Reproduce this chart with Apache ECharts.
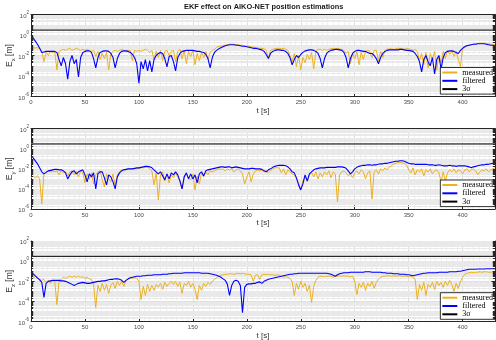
<!DOCTYPE html>
<html><head><meta charset="utf-8">
<script src="https://cdn.jsdelivr.net/npm/echarts/dist/echarts.min.js"></script>
<style>html,body{margin:0;padding:0;background:#fff}#c{width:496px;height:340px}</style>
</head><body><div id="c"></div>
<script>
const chartTitle = 'EKF effect on AIKO-NET position estimations';
const seriesNames = ['measured', 'filtered', '3σ'];
const axisSubscripts = ['x', 'y', 'z'];
const xTickLabels = [0, 50, 100, 150, 200, 250, 300, 350, 400];
const yTickExponents = [-6, -4, -2, 0, 2];

// sample times [s]
const timeS = [0,2,4,6,8,10,12,14,16,18,20,22,24,26,28,30,32,34,36,38,40,42,44,46,48,50,52,54,56,58,60,62,64,66,68,70,72,74,76,78,80,82,84,86,88,90,92,94,96,98,100,102,104,106,108,110,112,114,116,118,120,122,124,126,128,130,132,134,136,138,140,142,144,146,148,150,152,154,156,158,160,162,164,166,168,170,172,174,176,178,180,182,184,186,188,190,192,194,196,198,200,202,204,206,208,210,212,214,216,218,220,222,224,226,228,230,232,234,236,238,240,242,244,246,248,250,252,254,256,258,260,262,264,266,268,270,272,274,276,278,280,282,284,286,288,290,292,294,296,298,300,302,304,306,308,310,312,314,316,318,320,322,324,326,328,330,332,334,336,338,340,342,344,346,348,350,352,354,356,358,360,362,364,366,368,370,372,374,376,378,380,382,384,386,388,390,392,394,396,398,400,402,404,406,408,410,412,414,416,418,420,422,424,426,428,430];

// errors as log10(E [m])
const measuredX = [
-1.3,-1.3,-1.25,-1.25,-1.3,-1.6,-2.6,-1.7,-2.0,-1.6,
-1.7,-1.6,-3.4,-1.6,-1.5,-1.4,-1.5,-1.4,-1.3,-1.5,
-1.4,-1.3,-1.4,-1.5,-1.4,-1.5,-1.4,-1.5,-1.6,-1.5,
-2.1,-1.6,-2.4,-1.8,-2.3,-1.7,-3.4,-1.8,-1.6,-1.5,
-1.6,-1.5,-1.4,-1.5,-1.6,-1.5,-1.5,-2.5,-1.5,-1.6,
-1.5,-1.6,-1.5,-1.4,-1.5,-1.7,-1.5,-2.4,-1.6,-2.2,
-1.5,-2.5,-1.6,-1.5,-2.0,-1.6,-1.5,-2.6,-1.6,-1.4,
-2.3,-1.5,-2.8,-1.6,-2.1,-1.5,-2.9,-1.8,-2.5,-1.7,
-2.2,-1.6,-2.4,-1.7,-1.5,-1.4,-1.2,-1.1,-1.1,-1.0,
-1.0,-0.95,-0.9,-0.9,-0.9,-0.95,-0.95,-1.0,-1.0,-1.05,
-1.1,-1.1,-1.15,-1.2,-1.2,-1.25,-1.3,-1.3,-1.35,-1.5,
-2.2,-1.5,-1.4,-1.35,-1.3,-1.3,-1.35,-1.3,-1.4,-1.5,
-2.0,-2.6,-1.8,-3.1,-2.0,-3.4,-2.2,-2.7,-1.9,-2.4,
-1.7,-3.3,-1.6,-1.4,-1.4,-1.5,-1.4,-1.5,-1.4,-1.35,
-1.3,-1.35,-1.3,-1.35,-1.4,-1.5,-1.8,-1.6,-2.8,-1.8,
-2.3,-1.6,-2.9,-1.7,-2.4,-1.6,-1.5,-1.6,-2.2,-1.5,
-1.5,-2.5,-1.6,-2.2,-1.5,-1.4,-1.35,-1.35,-1.4,-1.35,
-1.3,-1.3,-1.35,-1.4,-1.3,-1.35,-1.4,-1.5,-1.4,-1.6,
-2.5,-1.8,-2.9,-1.7,-3.2,-1.8,-2.4,-1.6,-3.4,-2.0,
-2.7,-1.6,-2.3,-1.5,-1.9,-1.5,-2.1,-1.6,-2.4,-3.1,
-1.2,-1.1,-1.0,-1.0,-0.95,-0.9,-0.85,-0.85,-0.8,-0.8,
-0.8,-0.85,-0.85,-0.9,-0.9,-0.95];
const filteredX = [
0.0,-0.3,-0.6,-0.9,-1.3,-1.7,-1.65,-1.6,-1.6,-1.6,
-1.6,-1.6,-1.7,-2.4,-3.0,-2.2,-2.8,-4.3,-2.6,-2.0,
-2.8,-2.4,-4.1,-2.2,-1.7,-1.6,-1.55,-1.55,-1.7,-2.3,
-3.2,-2.2,-1.7,-1.6,-1.55,-1.55,-1.6,-1.8,-2.2,-3.2,
-2.3,-1.8,-1.6,-1.55,-1.55,-1.6,-1.7,-1.9,-2.2,-2.8,
-4.7,-2.6,-3.3,-2.4,-3.5,-2.5,-3.6,-2.4,-2.0,-1.8,
-1.7,-1.8,-2.3,-3.1,-2.1,-2.0,-2.6,-3.5,-2.2,-1.8,
-1.6,-1.55,-1.5,-1.5,-1.5,-1.5,-1.55,-1.6,-1.6,-1.65,
-1.7,-1.9,-2.3,-3.2,-2.2,-1.7,-1.5,-1.35,-1.25,-1.15,
-1.05,-1.0,-0.95,-0.95,-0.95,-1.0,-1.0,-1.05,-1.1,-1.1,
-1.15,-1.2,-1.25,-1.3,-1.3,-1.35,-1.4,-1.45,-1.6,-1.9,
-2.3,-1.8,-1.6,-1.5,-1.45,-1.45,-1.5,-1.5,-1.6,-1.8,
-2.2,-2.9,-2.4,-2.0,-2.2,-1.9,-1.7,-1.55,-1.5,-1.45,
-1.45,-1.5,-1.6,-1.8,-2.3,-3.2,-2.3,-1.8,-1.6,-1.5,
-1.45,-1.4,-1.4,-1.45,-1.5,-1.7,-2.2,-3.2,-2.3,-1.8,
-1.6,-1.5,-1.5,-1.55,-1.6,-1.6,-1.7,-1.8,-1.8,-2.0,
-2.3,-2.8,-2.2,-1.8,-1.6,-1.5,-1.45,-1.45,-1.45,-1.45,
-1.45,-1.4,-1.4,-1.45,-1.5,-1.5,-1.55,-1.6,-1.8,-2.1,
-2.6,-3.6,-2.4,-2.0,-2.6,-3.0,-2.2,-3.8,-2.4,-2.0,
-3.3,-2.2,-1.7,-1.6,-1.55,-1.55,-1.6,-1.7,-1.8,-1.5,
-1.3,-1.15,-1.05,-1.0,-0.95,-0.9,-0.9,-0.85,-0.85,-0.85,
-0.85,-0.9,-0.95,-1.0,-1.0,-1.05];
const measuredY = [
-2.9,-2.7,-2.9,-2.7,-3.0,-5.5,-2.5,-2.3,-2.2,-2.3,
-2.2,-2.3,-2.2,-2.6,-2.2,-2.4,-2.3,-2.7,-2.3,-2.2,
-2.6,-2.3,-2.8,-2.2,-2.4,-3.4,-2.5,-3.0,-2.4,-3.5,
-2.6,-2.3,-2.2,-3.1,-3.8,-2.5,-3.0,-3.3,-2.5,-3.7,
-2.6,-2.3,-2.1,-2.1,-2.1,-2.05,-2.0,-2.0,-2.0,-2.0,
-1.95,-1.9,-1.9,-1.85,-1.85,-2.0,-2.2,-3.6,-2.4,-5.1,
-2.6,-2.3,-3.2,-2.5,-3.4,-2.6,-2.9,-2.4,-2.8,-3.3,
-4.0,-2.7,-2.5,-2.9,-3.1,-2.5,-4.1,-2.7,-3.5,-2.4,
-2.8,-2.3,-2.6,-2.2,-2.3,-2.2,-2.1,-2.0,-2.05,-2.0,
-2.2,-2.0,-2.1,-2.0,-2.3,-2.1,-2.0,-2.2,-2.5,-3.5,
-2.8,-2.3,-3.3,-2.5,-2.2,-2.1,-2.2,-2.1,-2.3,-2.2,
-2.4,-2.2,-2.0,-1.9,-1.9,-1.9,-2.4,-2.0,-2.6,-2.1,
-2.3,-2.5,-2.6,-3.0,-3.4,-4.0,-3.2,-2.7,-3.3,-2.6,
-2.4,-2.8,-2.3,-3.0,-2.4,-2.8,-2.3,-2.6,-2.2,-2.9,
-2.3,-2.5,-5.3,-2.6,-2.3,-2.2,-2.4,-2.7,-2.5,-2.9,
-2.4,-2.2,-2.5,-2.1,-2.3,-3.0,-2.4,-2.2,-5.0,-2.3,
-2.1,-2.5,-2.0,-2.2,-1.9,-2.1,-1.8,-1.7,-1.5,-1.45,
-1.4,-1.35,-1.4,-1.45,-1.6,-2.1,-2.4,-1.9,-2.6,-2.1,
-2.3,-2.0,-2.7,-2.1,-2.3,-2.0,-2.5,-2.2,-2.1,-2.4,
-3.3,-2.3,-3.2,-2.4,-2.1,-2.3,-2.0,-2.4,-2.1,-2.2,
-2.5,-2.1,-2.0,-2.3,-2.1,-2.0,-2.2,-2.6,-2.3,-2.1,
-2.2,-2.0,-2.3,-2.1,-2.0,-1.9];
const filteredY = [
-0.66,-0.9,-1.2,-1.5,-1.9,-2.3,-2.5,-2.35,-2.2,-2.15,
-2.1,-2.05,-2.05,-2.1,-2.1,-2.2,-2.4,-3.0,-2.6,-2.3,
-2.2,-2.5,-2.3,-2.2,-2.1,-2.6,-3.3,-2.5,-2.8,-2.4,
-4.0,-2.5,-2.3,-2.3,-2.9,-3.6,-2.6,-2.8,-3.3,-4.0,
-2.8,-2.4,-2.2,-2.1,-2.05,-2.0,-2.0,-2.0,-1.95,-1.9,
-1.9,-1.85,-1.8,-1.75,-1.75,-1.8,-1.9,-2.1,-2.3,-2.5,
-2.3,-2.7,-3.1,-2.5,-3.0,-2.4,-2.6,-2.3,-2.6,-3.2,
-4.0,-2.8,-2.4,-3.0,-2.5,-3.0,-2.6,-3.4,-2.5,-2.3,
-2.7,-2.2,-2.1,-2.05,-2.0,-1.95,-1.9,-1.85,-1.8,-1.8,
-1.85,-1.8,-1.8,-1.9,-1.85,-1.8,-1.85,-1.9,-1.95,-2.0,
-2.0,-2.0,-1.95,-1.95,-2.0,-2.0,-2.0,-2.05,-2.2,-2.3,
-2.1,-2.0,-1.85,-1.75,-1.7,-1.65,-1.65,-1.65,-1.7,-1.8,
-2.0,-2.3,-2.4,-2.9,-3.6,-4.1,-3.5,-2.6,-3.2,-2.5,
-2.3,-2.1,-2.0,-1.95,-1.9,-1.9,-1.9,-1.85,-1.85,-1.85,
-1.85,-1.85,-1.8,-1.8,-1.8,-1.85,-1.95,-2.2,-2.5,-2.3,
-2.0,-1.85,-1.75,-1.7,-1.65,-1.65,-1.6,-1.6,-1.65,-1.6,
-1.6,-1.55,-1.5,-1.5,-1.45,-1.45,-1.4,-1.35,-1.3,-1.25,
-1.25,-1.2,-1.2,-1.25,-1.35,-1.45,-1.5,-1.5,-1.55,-1.55,
-1.55,-1.55,-1.55,-1.55,-1.6,-1.6,-1.6,-1.65,-1.65,-1.6,
-1.65,-1.7,-1.7,-1.7,-1.65,-1.7,-1.7,-1.75,-1.7,-1.7,
-1.7,-1.7,-1.75,-1.8,-1.9,-1.8,-1.75,-1.7,-1.65,-1.6,
-1.6,-1.55,-1.55,-1.5,-1.45,-1.45];
const measuredZ = [
-1.5,-1.6,-1.55,-1.7,-1.8,-1.9,-1.8,-2.1,-1.9,-2.2,
-1.9,-2.0,-4.3,-1.9,-1.8,-1.6,-1.7,-1.6,-1.5,-1.6,
-1.5,-1.6,-1.5,-1.6,-1.55,-1.7,-1.6,-1.75,-1.8,-2.3,
-4.6,-2.4,-3.0,-2.2,-2.9,-2.3,-3.2,-2.4,-2.1,-2.7,
-2.0,-2.4,-2.0,-2.5,-1.9,-1.8,-1.7,-1.7,-1.65,-1.7,
-2.0,-3.8,-2.5,-3.4,-2.3,-3.0,-2.4,-2.9,-2.3,-2.6,
-2.2,-2.8,-2.1,-2.5,-2.2,-2.0,-2.3,-2.0,-2.5,-2.1,
-3.2,-2.2,-2.4,-2.0,-2.6,-2.2,-2.8,-3.8,-2.4,-2.9,
-2.2,-2.5,-2.1,-2.3,-2.0,-1.8,-1.65,-1.5,-1.4,-1.35,
-1.3,-1.3,-1.25,-1.25,-1.3,-1.25,-1.2,-1.25,-1.2,-1.25,
-1.3,-1.3,-1.35,-2.0,-1.4,-1.35,-1.8,-1.35,-1.3,-1.35,
-1.3,-1.35,-1.35,-1.4,-1.35,-1.4,-1.5,-1.6,-1.55,-1.6,
-1.7,-2.0,-3.4,-2.2,-2.8,-2.0,-2.6,-2.2,-3.0,-2.4,
-4.1,-2.5,-1.9,-1.6,-1.5,-1.5,-1.55,-1.5,-1.5,-1.5,
-1.6,-1.5,-1.5,-1.45,-1.5,-1.45,-1.5,-1.5,-1.55,-1.5,
-2.0,-3.3,-2.2,-2.6,-2.1,-2.9,-2.2,-2.5,-2.0,-2.7,
-2.1,-1.8,-1.6,-1.5,-1.5,-1.45,-1.45,-1.5,-1.45,-1.5,
-1.45,-1.45,-1.5,-1.5,-1.5,-1.55,-1.5,-1.6,-1.8,-3.8,
-2.3,-2.9,-2.1,-3.4,-2.3,-2.6,-2.1,-2.8,-2.0,-2.4,
-2.1,-2.6,-2.0,-2.4,-1.9,-2.3,-3.0,-2.2,-2.7,-2.0,
-1.6,-1.3,-1.2,-1.15,-1.1,-1.15,-1.1,-1.1,-1.05,-1.1,
-1.05,-1.05,-1.1,-1.1,-1.05,-1.1];
const filteredZ = [
-1.1,-1.25,-1.45,-1.65,-1.85,-2.1,-3.6,-2.2,-2.0,-1.95,
-1.9,-1.9,-1.9,-1.9,-1.95,-1.95,-2.0,-2.1,-2.2,-2.3,
-2.4,-2.3,-2.2,-2.15,-2.1,-2.15,-2.2,-2.2,-2.15,-2.1,
-2.05,-2.0,-2.0,-1.95,-1.95,-1.9,-1.85,-1.8,-1.8,-1.75,
-1.75,-1.8,-1.9,-2.1,-1.9,-1.75,-1.65,-1.6,-1.55,-1.5,
-1.5,-1.5,-1.45,-1.45,-1.4,-1.4,-1.4,-1.35,-1.35,-1.35,
-1.35,-1.3,-1.3,-1.3,-1.25,-1.25,-1.2,-1.2,-1.2,-1.2,
-1.2,-1.15,-1.15,-1.15,-1.15,-1.15,-1.15,-1.15,-1.15,-1.2,
-1.2,-1.2,-1.2,-1.25,-1.3,-1.35,-1.4,-1.5,-1.6,-1.75,
-1.9,-2.3,-3.4,-2.4,-2.0,-1.9,-2.0,-2.4,-5.1,-2.6,
-2.3,-2.25,-2.25,-2.2,-2.2,-2.1,-2.05,-2.2,-2.0,-1.9,
-1.8,-1.75,-1.7,-1.65,-1.6,-1.55,-1.5,-1.45,-1.4,-1.35,
-1.3,-1.3,-1.25,-1.25,-1.2,-1.2,-1.2,-1.2,-1.2,-1.2,
-1.2,-1.2,-1.2,-1.2,-1.2,-1.2,-1.2,-1.2,-1.25,-1.3,
-1.4,-1.5,-1.35,-1.25,-1.2,-1.15,-1.15,-1.15,-1.1,-1.1,
-1.1,-1.1,-1.1,-1.1,-1.1,-1.05,-1.05,-1.05,-1.1,-1.1,
-1.1,-1.1,-1.1,-1.15,-1.15,-1.2,-1.2,-1.2,-1.25,-1.25,
-1.25,-1.3,-1.3,-1.3,-1.35,-1.35,-1.4,-1.45,-1.4,-1.35,
-1.3,-1.25,-1.2,-1.2,-1.15,-1.15,-1.15,-1.15,-1.15,-1.1,
-1.1,-1.1,-1.1,-1.1,-1.05,-1.05,-1.05,-1.05,-1.0,-1.0,
-0.95,-0.9,-0.85,-0.8,-0.8,-0.8,-0.8,-0.78,-0.78,-0.78,
-0.78,-0.75,-0.75,-0.75,-0.75,-0.75];
// 3-sigma bound, log10(E [m]) (constant)
const sigma3Log = [0.48, 0.48, 0.48];

const measuredSets = [measuredX, measuredY, measuredZ];
const filteredSets = [filteredX, filteredY, filteredZ];

const COLORS = { measured: '#EDB120', filtered: '#0000FF', sigma: '#000000' };
const AXIS_COLOR = '#262626';
const LABEL_COLOR = '#4a4a4a';
const FONT = 'Liberation Sans';
const grids = [
  { left: 31, top: 14.5, width: 464, height: 82, outerBoundsMode: 'none', containLabel: false },
  { left: 31, top: 128.7, width: 464, height: 80.3, outerBoundsMode: 'none', containLabel: false },
  { left: 31, top: 241, width: 464, height: 80.7, outerBoundsMode: 'none', containLabel: false }
];
const tMin = timeS[0], tMax = timeS[timeS.length - 1];

// log-decade minor grid positions (2..9 x 10^n, plus odd decades)
const minorLevels = [];
for (let n = -6; n < 2; n++) {
  for (let k = 1; k <= 9; k++) {
    if (k === 1 && n % 2 === 0) continue;
    minorLevels.push(n + Math.log10(k));
  }
}

const zip = (t, v) => t.map((x, i) => [x, v[i]]);

const xAxes = [], yAxes = [], series = [], legends = [];
grids.forEach((g, i) => {
  xAxes.push({
    type: 'value', gridIndex: i, min: tMin, max: tMax, interval: 50, position: 'bottom',
    axisLine: { show: true, onZero: false, lineStyle: { color: AXIS_COLOR, width: 1 } },
    axisTick: { show: true, inside: true, length: 3.5, lineStyle: { color: AXIS_COLOR } },
    axisLabel: { fontSize: 6, color: LABEL_COLOR, margin: 3, fontFamily: FONT,
      showMaxLabel: false,
      formatter: v => xTickLabels.includes(v) ? String(v) : '' },
    splitLine: { show: true, lineStyle: { color: '#dcdcdc', width: 1 } },
    minorTick: { show: false, splitNumber: 10 },
    minorSplitLine: { show: true, lineStyle: { color: '#f0f0f0', width: 1 } },
    name: 't [s]', nameLocation: 'middle', nameGap: 10, nameMoveOverlap: false,
    nameTextStyle: { fontSize: 8, color: '#333', fontFamily: FONT }
  });
  xAxes.push({
    type: 'value', gridIndex: i, min: tMin, max: tMax, interval: 50, position: 'top',
    axisLine: { show: true, onZero: false, lineStyle: { color: AXIS_COLOR, width: 1 } },
    axisTick: { show: true, inside: true, length: 3.5, lineStyle: { color: AXIS_COLOR } },
    axisLabel: { show: false }, splitLine: { show: false }
  });
  yAxes.push({
    type: 'value', gridIndex: i, min: -6, max: 2, interval: 2, position: 'left',
    axisLine: { show: true, onZero: false, lineStyle: { color: AXIS_COLOR, width: 1 } },
    axisTick: { show: true, inside: true, length: 3.5, lineStyle: { color: AXIS_COLOR } },
    axisLabel: {
      margin: 2, showMinLabel: true, showMaxLabel: true,
      formatter: v => yTickExponents.includes(v) ? '{b|10}{s|' + v + '}' : '',
      rich: {
        b: { fontSize: 6, color: LABEL_COLOR, fontFamily: FONT, lineHeight: 9, verticalAlign: 'bottom' },
        s: { fontSize: 4.5, color: LABEL_COLOR, fontFamily: FONT, lineHeight: 9, verticalAlign: 'top' }
      }
    },
    splitLine: { show: true, lineStyle: { color: '#dcdcdc', width: 1 } },
    name: '{e|E}{u|' + axisSubscripts[i] + '}{e| [m]}', nameLocation: 'middle', nameGap: 15,
    nameMoveOverlap: false,
    nameTextStyle: {
      rich: {
        e: { fontSize: 8.5, color: '#333', fontFamily: FONT, lineHeight: 12, verticalAlign: 'middle' },
        u: { fontSize: 6, color: '#333', fontFamily: FONT, lineHeight: 12, verticalAlign: 'bottom' }
      }
    }
  });
  yAxes.push({
    type: 'value', gridIndex: i, min: -6, max: 2, interval: 2, position: 'right',
    axisLine: { show: true, onZero: false, lineStyle: { color: AXIS_COLOR, width: 1 } },
    axisTick: { show: true, inside: true, length: 3.5, lineStyle: { color: AXIS_COLOR } },
    axisLabel: { show: false }, splitLine: { show: false }
  });

  const xi = i * 2, yi = i * 2;
  series.push({
    name: seriesNames[0], type: 'line', xAxisIndex: xi, yAxisIndex: yi,
    data: zip(timeS, measuredSets[i]), symbol: 'none', silent: true,
    lineStyle: { color: COLORS.measured, width: 1 }, itemStyle: { color: COLORS.measured },
    markLine: {
      silent: true, symbol: ['none', 'none'], z: 1, animation: false,
      label: { show: false },
      lineStyle: { color: '#e9e9e9', width: 1, type: 'solid' },
      emphasis: { disabled: true },
      data: minorLevels.map(e => ({ yAxis: e }))
    }
  });
  series.push({
    name: seriesNames[1], type: 'line', xAxisIndex: xi, yAxisIndex: yi,
    data: zip(timeS, filteredSets[i]), symbol: 'none', silent: true,
    lineStyle: { color: COLORS.filtered, width: 1.1 }, itemStyle: { color: COLORS.filtered }
  });
  const minorTickSegs = [];
  minorLevels.forEach(e => {
    minorTickSegs.push([{ coord: [tMin, e] }, { coord: [tMin + 2, e] }]);
    minorTickSegs.push([{ coord: [tMax - 2, e] }, { coord: [tMax, e] }]);
  });
  series.push({
    name: seriesNames[2], type: 'line', xAxisIndex: xi, yAxisIndex: yi,
    data: [[tMin, sigma3Log[i]], [tMax, sigma3Log[i]]], symbol: 'none', silent: true,
    lineStyle: { color: COLORS.sigma, width: 1 }, itemStyle: { color: COLORS.sigma },
    markLine: {
      silent: true, symbol: ['none', 'none'], z: 6, animation: false,
      label: { show: false },
      lineStyle: { color: AXIS_COLOR, width: 1, type: 'solid' },
      emphasis: { disabled: true },
      data: minorTickSegs
    }
  });

  legends.push({
    orient: 'vertical', right: 1, top: g.top + g.height - 29,
    data: seriesNames.map(n => ({ name: n, icon: 'rect' })), selectedMode: false,
    itemWidth: 15, itemHeight: 2, itemGap: 0.3,
    padding: [1, 2, 1, 2],
    borderColor: '#000', borderWidth: 0.8, backgroundColor: '#fff',
    textStyle: { fontFamily: 'Liberation Serif', fontSize: 8, color: '#000', lineHeight: 8, height: 8 }
  });
});

const chart = echarts.init(document.getElementById('c'), null, { renderer: 'canvas' });
chart.setOption({
  animation: false,
  backgroundColor: '#fff',
  title: {
    text: chartTitle, left: 184, top: 3, padding: 0,
    textStyle: { fontSize: 7.4, fontWeight: 'bold', color: '#1a1a1a', fontFamily: FONT }
  },
  grid: grids,
  xAxis: xAxes,
  yAxis: yAxes,
  legend: legends,
  series: series
});
</script>
</body></html>
